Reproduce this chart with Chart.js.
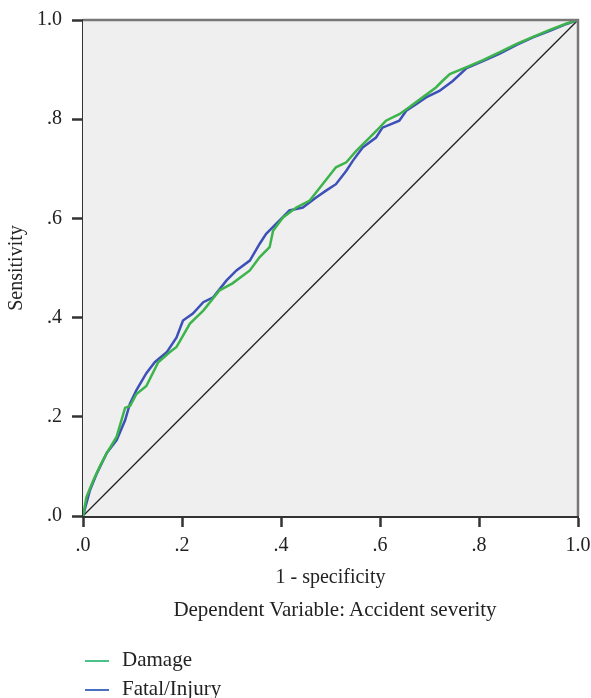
<!DOCTYPE html>
<html lang="en">
<head>
<meta charset="utf-8">
<title>ROC curve</title>
<script src="https://cdn.jsdelivr.net/npm/chart.js@4/dist/chart.umd.min.js"></script>
<style>
  body { margin: 0; background: #fff; }
  #wrap { position: relative; width: 591px; height: 698px; }
  #sub { position: absolute; left: 0; width: 670px; top: 597px; line-height: 24px; text-align: center; font: 21px "Liberation Serif", serif; color: #222; }
  #legend { position: absolute; left: 85px; top: 647px; font: 21px "Liberation Serif", serif; color: #222; }
  #legend div { height: 29px; line-height: 24px; }
  #legend span.sw { display: inline-block; width: 24px; height: 2px; vertical-align: middle; margin-right: 13px; }
</style>
</head>
<body>
<div id="wrap">
  <canvas id="roc" width="591" height="698"></canvas>
  <div id="sub">Dependent Variable: Accident severity</div>
  <div id="legend"></div>
</div>
<script>
// values
var tickLabels = ['.0', '.2', '.4', '.6', '.8', '1.0'];

var damageX = [0, .007, .02, .034, .048, .068, .085, .095, .108, .128, .152, .175, .189, .216, .243, .276, .302, .337, .357, .377, .384, .404, .431, .458, .484, .511, .532, .552, .579, .599, .612, .639, .659, .686, .713, .726, .741, .775, .808, .842, .876, .909, .943, .977, 1];
var damageY = [0, .038, .07, .10, .127, .16, .218, .222, .246, .262, .31, .33, .341, .388, .414, .455, .469, .495, .522, .542, .575, .602, .622, .636, .669, .703, .713, .736, .763, .783, .797, .810, .824, .844, .864, .877, .891, .905, .919, .935, .952, .966, .98, .993, 1];

var fatalX = [0, .014, .028, .048, .068, .085, .095, .108, .128, .145, .169, .189, .202, .222, .243, .263, .290, .310, .337, .357, .370, .391, .417, .444, .471, .491, .511, .532, .545, .565, .592, .605, .639, .653, .673, .693, .72, .747, .775, .808, .842, .876, .909, .943, .977, 1];
var fatalY = [0, .052, .086, .127, .153, .193, .227, .254, .288, .31, .33, .36, .394, .408, .431, .441, .475, .495, .515, .549, .569, .590, .616, .622, .642, .656, .669, .696, .716, .743, .763, .783, .797, .817, .830, .844, .857, .877, .903, .917, .932, .95, .965, .978, .992, 1];

var refX = [0, 1];
var refY = [0, 1];

var series = [
  { name: 'Damage', xs: damageX, ys: damageY, color: '#3cb44b', key: '#4cc28a' },
  { name: 'Fatal/Injury', xs: fatalX, ys: fatalY, color: '#3d50b8', key: '#4a6fc0' }
];

function pts(xs, ys) {
  var out = [];
  for (var i = 0; i < xs.length; i++) out.push({ x: xs[i], y: ys[i] });
  return out;
}

var datasets = series.map(function (s) {
  return { label: s.name, data: pts(s.xs, s.ys), borderColor: s.color, borderWidth: 2.5, pointRadius: 0, showLine: true, tension: 0 };
});
datasets.push({ label: 'ref', data: pts(refX, refY), borderColor: '#222', borderWidth: 1.3, pointRadius: 0, showLine: true });

// grey plot background plus top and right frame
var frame = {
  id: 'frame',
  beforeDatasetsDraw: function (chart) {
    var a = chart.chartArea, c = chart.ctx;
    c.save();
    c.fillStyle = '#efefef';
    c.fillRect(a.left, a.top, a.right - a.left, a.bottom - a.top);
    c.restore();
  },
  afterDraw: function (chart) {
    var a = chart.chartArea, c = chart.ctx;
    c.save();
    c.strokeStyle = '#777';
    c.lineWidth = 2.5;
    c.beginPath();
    c.moveTo(a.left, a.top);
    c.lineTo(a.right, a.top);
    c.lineTo(a.right, a.bottom);
    c.stroke();
    c.restore();
  }
};

var tickFont = { family: '"Liberation Serif", serif', size: 20 };
var titleFont = { family: '"Liberation Serif", serif', size: 20 };

new Chart(document.getElementById('roc'), {
  type: 'scatter',
  data: { datasets: datasets },
  options: {
    responsive: false,
    animation: false,
    layout: { padding: { top: 20, right: 13, bottom: 108, left: 0 } },
    plugins: { legend: { display: false }, tooltip: { enabled: false } },
    scales: {
      x: {
        type: 'linear', min: 0, max: 1,
        afterFit: function (s) { s.height = 74; s.paddingLeft = 0; s.paddingRight = 0; },
        ticks: { stepSize: 0.2, padding: 7, color: '#222', font: tickFont, callback: function (v, i) { return tickLabels[i]; } },
        grid: { drawOnChartArea: false, drawTicks: true, tickLength: 11, tickWidth: 2.5, tickColor: '#333' },
        border: { color: '#333', width: 3 },
        title: { display: true, text: '1 - specificity', color: '#222', font: titleFont, padding: { top: 4, bottom: 0 } }
      },
      y: {
        type: 'linear', min: 0, max: 1,
        afterFit: function (s) { s.width = 83; s.paddingTop = 0; s.paddingBottom = 0; },
        ticks: { stepSize: 0.2, padding: 10, color: '#222', font: tickFont, callback: function (v, i) { return tickLabels[i]; } },
        grid: { drawOnChartArea: false, drawTicks: true, tickLength: 11, tickWidth: 2.5, tickColor: '#333' },
        border: { color: '#333', width: 3 },
        title: { display: true, text: 'Sensitivity', color: '#222', font: titleFont, padding: { top: 5, bottom: 0 } }
      }
    }
  },
  plugins: [frame]
});

var lg = document.getElementById('legend');
series.forEach(function (s) {
  var row = document.createElement('div');
  row.innerHTML = '<span class="sw" style="background:' + s.key + '"></span>' + s.name;
  lg.appendChild(row);
});
</script>
</body>
</html>
